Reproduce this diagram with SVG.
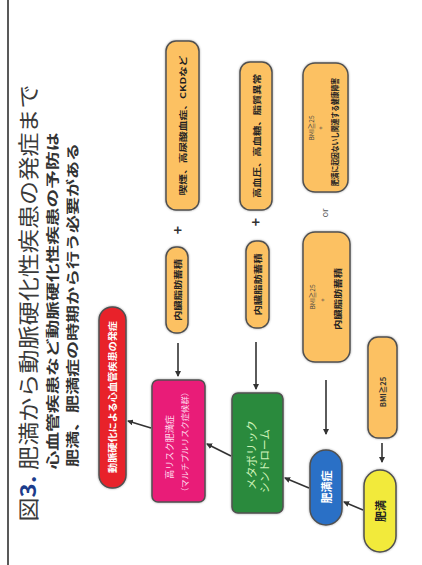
<svg xmlns="http://www.w3.org/2000/svg" width="422" height="565" viewBox="0 0 422 565">
<style>
text{font-family:"Noto Sans CJK JP","Liberation Sans",sans-serif;text-anchor:middle;dominant-baseline:central}
.box{stroke:#505050;stroke-width:1.5}
.org{fill:#fcc162}
.ot{font-size:8px;font-weight:bold;fill:#222}
.ol{font-size:6.5px;fill:#444}
.plus{font-size:14px;font-weight:bold;fill:#333}
.con{stroke:#333;stroke-width:1.6;fill:none;marker-end:url(#ah)}
</style>
<defs>
<marker id="ah" markerWidth="6" markerHeight="6" refX="5" refY="3" orient="auto" markerUnits="userSpaceOnUse">
<path d="M0,0 L6,3 L0,6 Z" fill="#333"/>
</marker>
<filter id="sh" x="-20%" y="-20%" width="140%" height="140%">
<feDropShadow dx="0" dy="0" stdDeviation="1.2" flood-color="#000" flood-opacity="0.35"/>
</filter>
</defs>
<rect width="422" height="565" fill="#fff"/>
<line x1="8" y1="0" x2="8" y2="565" stroke="#222" stroke-width="1.5"/>

<g id="title">
<text transform="translate(27,303) rotate(-90)" font-size="21" fill="#3a3a3a" textLength="437" lengthAdjust="spacingAndGlyphs">図<tspan fill="#1c3c8c" font-weight="bold">3.</tspan> 肥満から動脈硬化性疾患の発症まで</text>
<text transform="translate(51,301) rotate(-90)" font-size="13" font-weight="bold" fill="#333" textLength="337" lengthAdjust="spacingAndGlyphs">心血管疾患など動脈硬化性疾患の予防は</text>
<text transform="translate(71,305) rotate(-90)" font-size="13" font-weight="bold" fill="#333" textLength="324" lengthAdjust="spacingAndGlyphs">肥満、肥満症の時期から行う必要がある</text>
</g>

<g id="connectors">
<line class="con" x1="151" y1="428" x2="128" y2="421"/>
<line class="con" x1="231" y1="456" x2="207" y2="444"/>
<line class="con" x1="309" y1="488" x2="285" y2="478"/>
<line class="con" x1="363" y1="510" x2="344" y2="502"/>
<line class="con" x1="178" y1="343" x2="178" y2="376"/>
<line class="con" x1="256" y1="342" x2="256" y2="389"/>
<line class="con" x1="326" y1="380" x2="326" y2="434"/>
<line class="con" x1="382" y1="443" x2="382" y2="462"/>
</g>

<g id="n-red">
<rect class="box" x="99" y="307" width="27" height="181" rx="13" fill="#e8232c" filter="url(#sh)"/>
<text transform="translate(112.5,397) rotate(-90)" font-size="9" font-weight="bold" fill="#fff" textLength="152" lengthAdjust="spacingAndGlyphs">動脈硬化による心血管疾患の発症</text>
</g>

<g id="n-pink">
<rect class="box" x="152" y="380" width="53" height="122" rx="6" fill="#e91e78" filter="url(#sh)"/>
<text transform="translate(169,447) rotate(-90)" font-size="9" fill="#fde" textLength="64" lengthAdjust="spacingAndGlyphs">高リスク肥満症</text>
<text transform="translate(184,442) rotate(-90)" font-size="8" fill="#fde" textLength="108" lengthAdjust="spacingAndGlyphs">（マルチプルリスク症候群）</text>
</g>

<g id="n-green">
<rect class="box" x="232" y="393" width="51" height="120" rx="6" fill="#2a8a3c" filter="url(#sh)"/>
<text transform="translate(251,455) rotate(-90)" font-size="11" fill="#cdf2b8" textLength="70" lengthAdjust="spacingAndGlyphs">メタボリック</text>
<text transform="translate(264,461) rotate(-90)" font-size="11" fill="#cdf2b8" textLength="64" lengthAdjust="spacingAndGlyphs">シンドローム</text>
</g>

<g id="n-blue">
<rect class="box" x="310" y="450" width="32" height="75" rx="16" fill="#2a6fc6" filter="url(#sh)"/>
<text transform="translate(326,487) rotate(-90)" font-size="11" font-weight="bold" fill="#fff">肥満症</text>
</g>

<g id="n-yellow">
<rect class="box" x="364" y="470" width="32" height="82" rx="16" fill="#f2ea3a" filter="url(#sh)"/>
<text transform="translate(380,511) rotate(-90)" font-size="11" font-weight="bold" fill="#222">肥満</text>
</g>

<g id="n-risk2">
<rect class="box org" x="166" y="41" width="33" height="169" rx="10" filter="url(#sh)"/>
<text class="ot" transform="translate(182.5,125.5) rotate(-90)" textLength="140" lengthAdjust="spacingAndGlyphs">喫煙、高尿酸血症、CKDなど</text>
</g>
<g id="plus1"><text class="plus" transform="translate(177,230) rotate(-90)">+</text></g>
<g id="n-visc1">
<rect class="box org" x="166" y="247" width="22" height="86" rx="10" filter="url(#sh)"/>
<text class="ot" transform="translate(177,290) rotate(-90)" textLength="62" lengthAdjust="spacingAndGlyphs">内臓脂肪蓄積</text>
</g>

<g id="n-risk1">
<rect class="box org" x="240" y="62" width="32" height="148" rx="10" filter="url(#sh)"/>
<text class="ot" transform="translate(256,136) rotate(-90)" textLength="124" lengthAdjust="spacingAndGlyphs">高血圧、高血糖、脂質異常</text>
</g>
<g id="plus2"><text class="plus" transform="translate(255,222) rotate(-90)">+</text></g>
<g id="n-visc2">
<rect class="box org" x="246" y="241" width="23" height="87" rx="10" filter="url(#sh)"/>
<text class="ot" transform="translate(257.5,284.5) rotate(-90)" textLength="62" lengthAdjust="spacingAndGlyphs">内臓脂肪蓄積</text>
</g>

<g id="n-obd1">
<rect class="box org" x="303" y="63" width="45" height="129" rx="12" filter="url(#sh)"/>
<text class="ol" transform="translate(311,128) rotate(-90)">BMI≧25</text>
<text class="ol" font-size="8" transform="translate(320,128) rotate(-90)">+</text>
<text class="ot" font-size="7" transform="translate(334,132) rotate(-90)" textLength="108" lengthAdjust="spacingAndGlyphs">肥満に起因ないし関連する健康障害</text>
</g>
<g id="or"><text transform="translate(324,213) rotate(-90)" font-size="9" fill="#555">or</text></g>
<g id="n-obd2">
<rect class="box org" x="303" y="232" width="47" height="130" rx="12" filter="url(#sh)"/>
<text class="ol" transform="translate(312,297) rotate(-90)">BMI≧25</text>
<text class="ol" font-size="8" transform="translate(322,300) rotate(-90)">+</text>
<text class="ot" transform="translate(337,299) rotate(-90)" textLength="62" lengthAdjust="spacingAndGlyphs">内臓脂肪蓄積</text>
</g>

<g id="n-bmi">
<rect class="box org" x="368" y="337" width="29" height="101" rx="10" filter="url(#sh)"/>
<text transform="translate(382,392) rotate(-90)" font-size="7.5" font-weight="bold" fill="#333">BMI≧25</text>
</g>
</svg>
